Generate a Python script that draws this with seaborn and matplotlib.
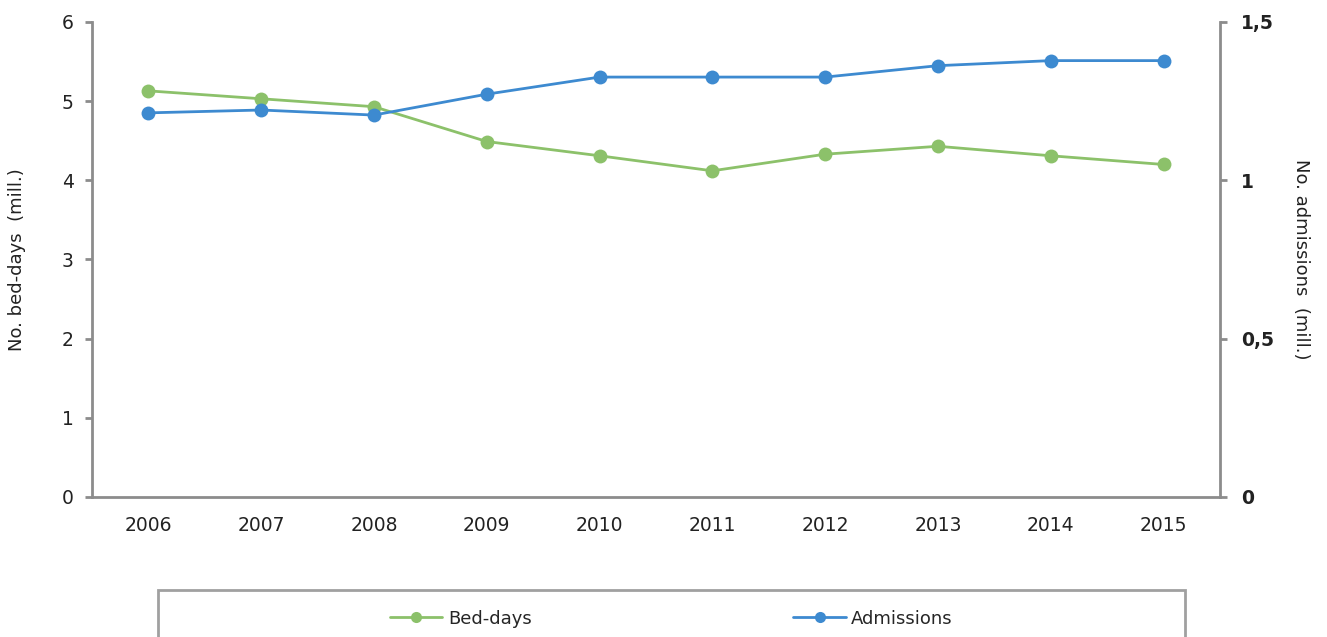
import seaborn as sns
import pandas as pd
import matplotlib.pyplot as plt
from matplotlib.patches import Rectangle

years = ['2006', '2007', '2008', '2009', '2010', '2011', '2012', '2013', '2014', '2015']
bed_days = [5.13, 5.03, 4.93, 4.49, 4.31, 4.12, 4.33, 4.43, 4.31, 4.20]
admissions = [1.213, 1.222, 1.206, 1.272, 1.326, 1.326, 1.326, 1.362, 1.378, 1.378]

green = '#8cc16a'
blue = '#3d8ad0'
grey = '#8c8c8c'

df = pd.DataFrame({'year': years, 'bed_days': bed_days, 'admissions': admissions})
df['pos'] = range(len(years))

sns.set_style('white')
plt.rcParams['font.family'] = ['DejaVu Sans']

fig = plt.figure(figsize=(13.27, 6.37), dpi=100)
ax = fig.add_axes([0.0693, 0.2198, 0.8500, 0.7457])
ax2 = ax.twinx()

sns.lineplot(data=df, x='pos', y='bed_days', ax=ax, color=green, lw=2,
             marker='o', markersize=10, markeredgewidth=0, label='Bed-days', legend=False)
sns.lineplot(data=df, x='pos', y='admissions', ax=ax2, color=blue, lw=2,
             marker='o', markersize=10, markeredgewidth=0, label='Admissions', legend=False)

ax.set_xlim(-0.5, len(years) - 0.5)
ax.set_ylim(0, 6)
ax2.set_ylim(0, 1.5)
ax.set_yticks(range(0, 7))
ax2.set_yticks([0, 0.5, 1, 1.5])
ax2.set_yticklabels(['0', '0,5', '1', '1,5'], fontweight='bold')

ax.set_xticks(df['pos'])
ax.set_xticklabels(years)
ax.set_xticks([p - 0.5 for p in range(len(years) + 1)], minor=True)
ax.tick_params(axis='x', which='major', length=0, pad=14, labelsize=13.5, colors='#222222')
ax.tick_params(axis='x', which='minor', length=5, width=2, color=grey, direction='out')
ax.tick_params(axis='y', length=5, width=2, color=grey, labelsize=13.5, labelcolor='#222222', left=True, pad=8)
ax2.tick_params(axis='y', length=5, width=2, color=grey, labelsize=13.5, labelcolor='#222222', right=True, pad=10)

for a in (ax, ax2):
    a.spines['top'].set_visible(False)
    for s in ('left', 'right', 'bottom'):
        a.spines[s].set_color(grey)
        a.spines[s].set_linewidth(2)
ax.spines['right'].set_visible(False)
ax2.spines['left'].set_visible(False)
ax2.spines['bottom'].set_visible(False)

ax.set_xlabel('')
ax.set_ylabel('No. bed-days  (mill.)', fontsize=13, color='#222222', labelpad=26)
ax2.set_ylabel('No. admissions  (mill.)', fontsize=13, color='#222222', rotation=-90, labelpad=26)

fig.patches.append(Rectangle((158 / 1327, -0.05), 1027 / 1327, 0.124, transform=fig.transFigure,
                             fill=False, edgecolor='#a0a0a0', linewidth=2))
h1, l1 = ax.get_legend_handles_labels()
h2, l2 = ax2.get_legend_handles_labels()
fig.legend(h1 + h2, l1 + l2, loc='center', bbox_to_anchor=(0.506, 0.029), ncol=2,
           frameon=False, fontsize=13, handlelength=2.9, handletextpad=0.3, columnspacing=14.5,
           markerscale=0.8)

fig.savefig('out.png', dpi=100)
